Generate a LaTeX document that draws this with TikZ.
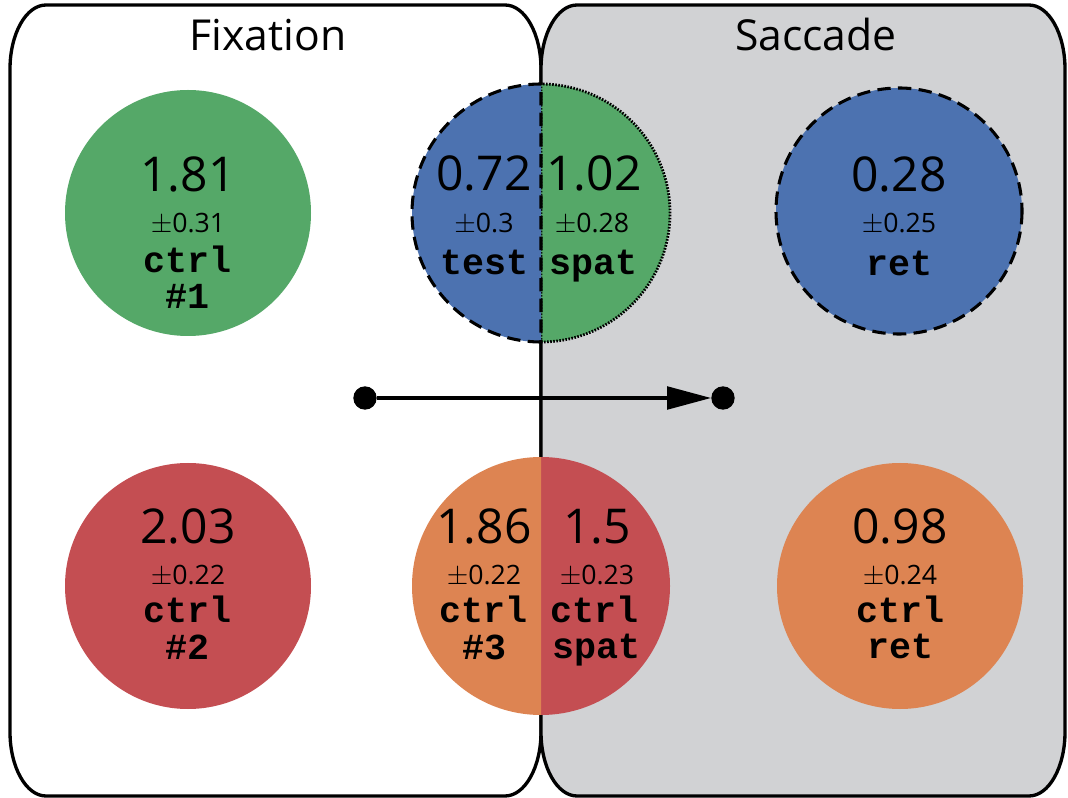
\documentclass[tikz,border=0pt]{standalone}
\usepackage{fontspec}
\setmainfont{Open Sans}
\newfontfamily\codefont{Liberation Mono}
\usetikzlibrary{arrows.meta}

% seaborn-like palette
\definecolor{cgreen}{HTML}{55A868}
\definecolor{cblue}{HTML}{4C72B0}
\definecolor{cred}{HTML}{C44E52}
\definecolor{corange}{HTML}{DD8452}
\definecolor{panelgray}{HTML}{D1D2D4}

% box with elliptical corners: style, x0, y0, x1, y1, rx, ry
\newcommand\softbox[7]{%
  \path[#1] ({#2+#6},#3) -- ({#4-#6},#3)
    .. controls ({#4-0.448*#6},#3) and (#4,{#3+0.448*#7}) .. (#4,{#3+#7})
    -- (#4,{#5-#7})
    .. controls (#4,{#5-0.448*#7}) and ({#4-0.448*#6},#5) .. ({#4-#6},#5)
    -- ({#2+#6},#5)
    .. controls ({#2+0.448*#6},#5) and (#2,{#5-0.448*#7}) .. (#2,{#5-#7})
    -- (#2,{#3+#7})
    .. controls (#2,{#3+0.448*#7}) and ({#2+0.448*#6},#3) .. ({#2+#6},#3) -- cycle;}

\tikzset{
  panel/.style={draw=black, line width=2.5pt},
  title/.style={anchor=base, font=\fontsize{32}{34}\selectfont},
  val/.style={anchor=base, font=\fontsize{36}{38}\selectfont},
  err/.style={anchor=base, font=\fontsize{20}{22}\selectfont},
  lab/.style={anchor=base, font=\codefont\bfseries\fontsize{27.5}{30}\selectfont},
  dashring/.style={draw=black, line width=2.3pt, dash pattern=on 10pt off 5.5pt},
  dotring/.style={draw=black, line width=2.1pt, dash pattern=on 1.2pt off 1.1pt},
  dot/.style={circle, fill=black, inner sep=0pt, minimum size=17.5pt},
  motion/.style={line width=2.5pt, -{Triangle[length=33pt,width=17pt]}},
}

\begin{document}
\begin{tikzpicture}[x=0.75pt, y=-0.75pt]
  \useasboundingbox (0,0) rectangle (1068,798);

  % the two condition panels
  \softbox{panel, fill=white}{10}{5}{541}{796}{36}{64}
  \softbox{panel, fill=panelgray}{541}{5}{1065}{796}{36}{64}
  \node[title] (tfix) at (268,51) {Fixation};
  \node[title] (tsac) at (816,51) {Saccade};

  % eye movement from fixation to saccade target
  \node[dot] (start) at (365,398) {};
  \node[dot] (stop) at (723,398) {};
  \draw[motion] (start) -- (stop);

  % top row
  \fill[cgreen] (188,213) circle[radius=123];
  \node[val] (v1) at (188,192) {1.81};
  \node[err] (e1) at (188,233) {$\pm$0.31};
  \node[lab] (l1) at (188,273) {ctrl};
  \node[lab] (m1) at (188,309) {\#1};

  \path[fill=cgreen, dotring] (541,342) arc[start angle=90, end angle=-90, radius=129] -- cycle;
  \path[fill=cblue, dashring] (541,342) arc[start angle=90, end angle=270, radius=129] -- cycle;
  \node[val] (v2) at (484,191) {0.72};
  \node[err] (e2) at (484,233) {$\pm$0.3};
  \node[lab] (l2) at (485,275) {test};
  \node[val] (v3) at (594,191) {1.02};
  \node[err] (e3) at (592,233) {$\pm$0.28};
  \node[lab] (l3) at (594,275) {spat};

  \path[fill=cblue, dashring] (899,211) circle[radius=123];
  \node[val] (v4) at (899,192) {0.28};
  \node[err] (e4) at (899,233) {$\pm$0.25};
  \node[lab] (l4) at (899,276) {ret};

  % bottom row
  \fill[cred] (188,586) circle[radius=123];
  \node[val] (v5) at (188,544) {2.03};
  \node[err] (e5) at (188,585) {$\pm$0.22};
  \node[lab] (l5) at (188,622) {ctrl};
  \node[lab] (m5) at (188,659) {\#2};

  \fill[cred] (541,715) arc[start angle=90, end angle=-90, radius=129] -- cycle;
  \fill[corange] (541,715) arc[start angle=90, end angle=270, radius=129] -- cycle;
  \node[val] (v6) at (484,544) {1.86};
  \node[err] (e6) at (484,585) {$\pm$0.22};
  \node[lab] (l6) at (484,622) {ctrl};
  \node[lab] (m6) at (484,659) {\#3};
  \node[val] (v7) at (597,544) {1.5};
  \node[err] (e7) at (597,585) {$\pm$0.23};
  \node[lab] (l7) at (595,622) {ctrl};
  \node[lab] (m7) at (597,658) {spat};

  \fill[corange] (900,586) circle[radius=123];
  \node[val] (v8) at (900,544) {0.98};
  \node[err] (e8) at (900,585) {$\pm$0.24};
  \node[lab] (l8) at (900,622) {ctrl};
  \node[lab] (m8) at (900,658) {ret};
\end{tikzpicture}
\end{document}
